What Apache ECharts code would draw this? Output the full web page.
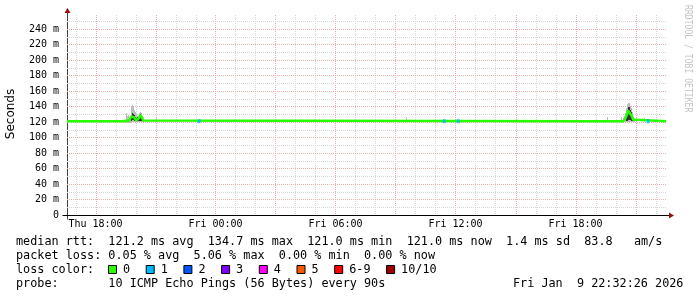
<!DOCTYPE html>
<html><head><meta charset="utf-8">
<script src="https://cdn.jsdelivr.net/npm/echarts@6/dist/echarts.min.js"></script>
<style>html,body{margin:0;padding:0;background:#fff}#c{width:697px;height:297px}</style>
</head><body><div id="c"></div>
<script>
// ---- data (x = hours since Thu 00:00, y = milliseconds) ----
const xTickValues = [18, 24, 30, 36, 42];
const xTickLabels = ['Thu 18:00', 'Fri 00:00', 'Fri 06:00', 'Fri 12:00', 'Fri 18:00'];
const yTickValues = [0, 20, 40, 60, 80, 100, 120, 140, 160, 180, 200, 220, 240];
const yTickLabels = ['0', '20 m', '40 m', '60 m', '80 m', '100 m', '120 m', '140 m', '160 m', '180 m', '200 m', '220 m', '240 m'];

const medianT = [16.58, 17.38, 17.43, 17.48,
  19.43, 19.48, 19.53, 19.58, 19.63, 19.68, 19.73, 19.78, 19.83, 19.88, 19.93, 19.98, 20.03, 20.08, 20.13, 20.18, 20.23, 20.28, 20.33, 20.38, 20.43,
  42.88, 42.93, 42.98,
  44.38, 44.43, 44.48, 44.53, 44.58, 44.63, 44.68, 44.73, 44.78, 44.83, 44.88, 44.93, 44.98, 45.03, 45.08,
  46.53];
const medianV = [121, 121, 122.5, 121,
  121, 121.5, 123, 122, 122, 121.5, 124, 127, 129, 128, 126, 124, 122, 123, 122, 125, 129, 131, 126, 122, 121,
  121, 122, 121,
  121, 122, 124, 127, 130, 134.7, 133, 131, 130, 127, 123, 121, 123, 123, 121,
  121];

const smokeT = [19.53, 19.58, 19.63, 19.68, 19.73, 19.78, 19.83, 19.88, 19.93, 19.98, 20.03, 20.08, 20.13, 20.18, 20.23, 20.28, 20.33, 20.38,
  21.03, 33.53, 43.58,
  44.28, 44.38, 44.43, 44.48, 44.53, 44.58, 44.63, 44.68, 44.73, 44.78, 44.83, 44.88, 44.93, 45.43];
const smokeLow = [119, 119, 119, 119, 119, 120, 120, 120, 120, 120, 120, 120, 120, 120, 120, 120, 120, 120,
  120, 120, 120,
  120, 120, 120, 120, 120, 120, 120, 120, 120, 120, 120, 120, 120, 120];
const smokeHigh = [132, 128, 129, 125, 128, 140, 142, 141, 136, 133, 130, 128, 127, 131, 133, 131, 127, 124,
  127, 126, 127,
  126, 125, 128, 132, 138, 143, 145, 144, 141, 138, 133, 127, 124, 125];

const darkT = [19.78, 19.83, 19.88, 19.93, 19.98, 20.03, 20.08, 20.13, 20.18, 20.23, 20.28, 20.33,
  44.53, 44.58, 44.63, 44.68, 44.73, 44.78, 44.83, 44.88];
const darkLow = [121, 122, 122, 121, 121, 121, 121, 121, 121, 121, 121, 121,
  121, 121, 122, 122, 122, 121, 121, 121];
const darkHigh = [128, 131, 130, 129, 127, 125, 126, 124, 129, 130, 128, 124,
  130, 135, 139, 139, 136, 133, 128, 124];

const lossT = [23.18, 35.43, 36.13, 45.63];
const lossV = [121, 121, 121, 121];

const legendLabels = ['0', '1', '2', '3', '4', '5', '6-9', '10/10'];
const legendColors = ['#26ff00', '#00b8ff', '#0059ff', '#7e00ff', '#ff00ff', '#ff5500', '#ff0000', '#a10000'];

const line1 = 'median rtt:  121.2 ms avg  134.7 ms max  121.0 ms min  121.0 ms now  1.4 ms sd  83.8   am/s';
const line2 = 'packet loss: 0.05 % avg  5.06 % max  0.00 % min  0.00 % now';
const line3 = 'loss color:';
const line4 = 'probe:       10 ICMP Echo Pings (56 Bytes) every 90s';
const dateText = 'Fri Jan  9 22:32:26 2026';

// ---- chart ----
const X_MIN = 16.575, X_MAX = 46.575, Y_MIN = 0, Y_MAX = 258;
const MONO = '"DejaVu Sans Mono", monospace';
const MAJOR = '#eab0b0', MINOR = '#d6d6d6';

const gridData = [];
for (let h = 17; h <= 46; h++) gridData.push([0, h, h % 3 === 0 ? 1 : 0]);
for (let v = 10; v <= 250; v += 10) gridData.push([1, v, v % 20 === 0 ? 1 : 0]);

function gridItem(params, api) {
  const kind = api.value(0), v = api.value(1), major = api.value(2);
  const cs = params.coordSys;
  let shape;
  if (kind === 0) {
    const x = Math.round(api.coord([v, 0])[0]) + 0.5;
    shape = { x1: x, y1: cs.y, x2: x, y2: cs.y + cs.height };
  } else {
    const y = Math.round(api.coord([X_MIN, v])[1]) + 0.5;
    shape = { x1: cs.x, y1: y, x2: cs.x + cs.width, y2: y };
  }
  return { type: 'line', shape, silent: true, style: { stroke: major ? MAJOR : MINOR, lineWidth: 1, lineDash: [1, 1] } };
}
function smokeItem(color) {
  return function (params, api) {
    const t = api.value(0), lo = api.value(1), hi = api.value(2);
    const pHi = api.coord([t, hi]), pLo = api.coord([t, lo]);
    const yTop = Math.round(pHi[1]), yBot = Math.round(pLo[1]);
    return { type: 'rect', shape: { x: Math.floor(pHi[0]), y: yTop, width: 1, height: yBot - yTop }, style: { fill: color } };
  };
}

const chart = echarts.init(document.getElementById('c'));
chart.setOption({
  animation: false,
  backgroundColor: '#ffffff',
  grid: { left: 67, top: 15, width: 600, height: 200 },
  xAxis: {
    type: 'value', min: X_MIN, max: X_MAX,
    axisLine: { show: true, lineStyle: { color: '#000', width: 1 } },
    axisTick: { show: false }, splitLine: { show: false },
    axisLabel: { customValues: xTickValues, margin: 4, color: '#000', fontFamily: MONO, fontSize: 10,
      formatter: v => xTickLabels[xTickValues.indexOf(v)] }
  },
  yAxis: {
    type: 'value', min: Y_MIN, max: Y_MAX,
    axisLine: { show: true, lineStyle: { color: '#444', width: 1 } },
    axisTick: { show: false }, splitLine: { show: false },
    axisLabel: { customValues: yTickValues, margin: 8, color: '#000', fontFamily: MONO, fontSize: 10,
      formatter: v => yTickLabels[yTickValues.indexOf(v)] }
  },
  series: [
    { type: 'custom', z: 1, silent: true, renderItem: gridItem, data: gridData, encode: { x: 1, y: 1 }, clip: false },
    { type: 'custom', z: 2, silent: true, renderItem: smokeItem('#bdbdbd'), encode: { x: 0, y: [1, 2] },
      data: smokeT.map((t, i) => [t, smokeLow[i], smokeHigh[i]]) },
    { type: 'custom', z: 3, silent: true, renderItem: smokeItem('#333333'), encode: { x: 0, y: [1, 2] },
      data: darkT.map((t, i) => [t, darkLow[i], darkHigh[i]]) },
    { type: 'line', z: 4, silent: true, symbol: 'none', lineStyle: { color: '#26ff00', width: 2.5 },
      data: medianT.map((t, i) => [t, medianV[i]]) },
    { type: 'scatter', z: 5, silent: true, symbol: 'rect', symbolSize: [3, 4], itemStyle: { color: '#00b8ff' },
      data: lossT.map((t, i) => [t, lossV[i]]) }
  ]
});

// ---- decorations: axis arrows, texts ----
const p0 = chart.convertToPixel({ gridIndex: 0 }, [X_MIN, Y_MIN]);
const p1 = chart.convertToPixel({ gridIndex: 0 }, [X_MAX, Y_MAX]);
const x0 = Math.round(p0[0]) + 0.5, y0 = Math.round(p0[1]) + 0.5, x1 = Math.round(p1[0]), yT = Math.round(p1[1]);
const ARROW = '#9a0f0f';
const g = [
  { type: 'line', shape: { x1: x0, y1: y0 + 4, x2: x0, y2: yT - 2 }, style: { stroke: '#444', lineWidth: 1 } },
  { type: 'line', shape: { x1: x0 - 5, y1: y0, x2: x1 + 2, y2: y0 }, style: { stroke: '#000', lineWidth: 1 } },
  { type: 'polygon', shape: { points: [[x0, yT - 7], [x0 - 3, yT - 2], [x0 + 3, yT - 2]] }, style: { fill: ARROW } },
  { type: 'polygon', shape: { points: [[x1 + 7, y0], [x1 + 2, y0 - 3], [x1 + 2, y0 + 3]] }, style: { fill: ARROW } },
  { type: 'text', x: 11, y: 114, rotation: Math.PI / 2,
    style: { text: 'Seconds', font: '12px "DejaVu Sans", sans-serif', fill: '#000', align: 'center', verticalAlign: 'middle' } },
  { type: 'text', x: 688, y: 5, rotation: -Math.PI / 2, scaleX: 0.81,
    style: { text: 'RRDTOOL / TOBI OETIKER', font: '10px ' + MONO, fill: '#c4c4c4', align: 'left', verticalAlign: 'middle' } }
];
const textFont = '11.8px ' + MONO;
[[line1, 242], [line2, 255.5], [line3, 269.5], [line4, 283.5]].forEach(([t, y]) => {
  g.push({ type: 'text', x: 16, y: y, style: { text: t, font: textFont, fill: '#000', align: 'left', verticalAlign: 'middle' } });
});
g.push({ type: 'text', x: 513, y: 283.5, style: { text: dateText, font: textFont, fill: '#000', align: 'left', verticalAlign: 'middle' } });
let lx = 108;
legendLabels.forEach((lab, i) => {
  g.push({ type: 'rect', shape: { x: lx + 0.5, y: 265.5, width: 8, height: 8 }, style: { fill: legendColors[i], stroke: '#000', lineWidth: 1 } });
  g.push({ type: 'text', x: lx + 15, y: 269.5, style: { text: lab, font: textFont, fill: '#000', align: 'left', verticalAlign: 'middle' } });
  lx += 15 + lab.length * 7.1 + 15.6;
});
chart.setOption({ graphic: g });
</script>
</body></html>
